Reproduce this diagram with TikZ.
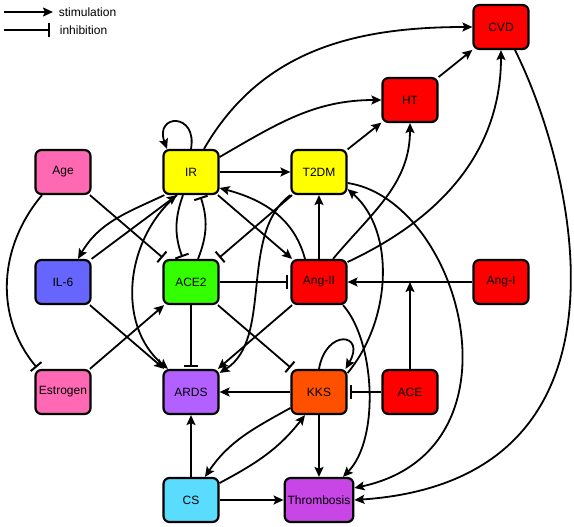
\documentclass[tikz,border=0pt]{standalone}
\usepackage{fontspec}
\setmainfont{Liberation Sans}
\usetikzlibrary{positioning,arrows.meta}

\definecolor{nodered}{RGB}{255,0,0}
\definecolor{nodeyellow}{RGB}{255,255,0}
\definecolor{nodepink}{RGB}{255,105,180}
\definecolor{nodeblue}{RGB}{102,102,255}
\definecolor{nodegreen}{RGB}{51,255,0}
\definecolor{nodeviolet}{RGB}{178,96,255}
\definecolor{nodeorange}{RGB}{255,80,0}
\definecolor{nodecyan}{RGB}{90,220,255}
\definecolor{nodemagenta}{RGB}{200,70,230}

\begin{document}
\begin{tikzpicture}[node distance=110pt, line width=1.8pt, font=\fontsize{12}{14}\selectfont]

\useasboundingbox (0,0) rectangle (574pt,-527pt);

% Styles
\tikzstyle{block} = [draw, rectangle, rounded corners=6pt, line width=2.2pt, minimum height=44pt, minimum width=55pt, inner sep=3pt]
\tikzstyle{act}   = [-{Stealth[length=10pt,width=9pt,inset=2pt]}]
\tikzstyle{inh}   = [-{Bar[width=14pt,line width=2pt]}, shorten >=2pt]

% Nodes
\node [block, fill=nodepink] (age) at (63pt,-172pt) {Age};
\node [block, fill=nodeyellow, right of=age, node distance=128pt] (ir) {IR};
\node [block, fill=nodeyellow, right of=ir, node distance=128pt] (t2dm) {T2DM};
\node [block, fill=nodeblue, below of=age] (il6) {IL-6};
\node [block, fill=nodegreen, below of=ir] (ace2) {ACE2};
\node [block, fill=nodered, below of=t2dm] (angii) {Ang-II};
\node [block, fill=nodered, right of=angii, node distance=182pt] (angi) {Ang-I};
\node [block, fill=nodepink, below of=il6] (estrogen) {Estrogen};
\node [block, fill=nodeviolet, below of=ace2] (ards) {ARDS};
\node [block, fill=nodeorange, below of=angii] (kks) {KKS};
\node [block, fill=nodered, right of=kks, node distance=91pt] (ace) {ACE};
\node [block, fill=nodecyan, below of=ards, node distance=108pt] (cs) {CS};
\node [block, fill=nodemagenta, below of=kks, node distance=108pt] (thrombosis) {Thrombosis};
\node [block, fill=nodered, above of=ace, node distance=292pt] (ht) {HT};
\node [block, fill=nodered, above of=angi, node distance=255pt] (cvd) {CVD};

% Legend
\coordinate (stimstart) at (4pt,-12pt);
\coordinate (stimend) at (53pt,-12pt);
\coordinate (inhstart) at (4pt,-30pt);
\coordinate (inhend) at (52pt,-30pt);
\node [right, inner sep=0pt] (stimlabel) at (58pt,-12pt) {stimulation};
\node [right, inner sep=0pt] (inhlabel) at (59pt,-30pt) {inhibition};
\draw [act] (stimstart) -- (stimend);
\draw [inh] (inhstart) -- (inhend);

% Straight connections
\draw [act] (ir) -- (t2dm);
\draw [act] (ir) -- (angii);
\draw [act] (il6.north east) -- ([xshift=-14pt]ir.south);
\draw [act] (il6) -- (ards);
\draw [act] (estrogen) -- (ace2);
\draw [inh] (age) -- (ace2);
\draw [inh] (ace2) -- (ards);
\draw [inh] (ace2) -- (angii);
\draw [inh] (ace2) -- (kks);
\draw [inh] (t2dm) -- (ace2);
\draw [act] (angii) -- (t2dm);
\draw [act] (angii) -- (ards);
\draw [act] (t2dm) -- (ht);
\draw [act] (ht) -- (cvd);
\draw [act] (angi) -- (angii);
\draw [act] (ace) -- (ace |- angi);
\draw [inh] (ace) -- (kks);
\draw [act] (kks) -- (ards);
\draw [act] (kks) -- (thrombosis);
\draw [act] (cs) -- (ards);
\draw [act] (cs) -- (thrombosis);

% Curved connections
\draw [act] (ir.north) to[out=80, in=110, looseness=4] ([xshift=-24pt]ir.north);
\draw [act] ([xshift=13pt]ir.north) to[out=60, in=180] (cvd);
\draw [act] ([yshift=15pt]ir.east) to[out=30, in=180] (ht);
\draw [act] ([xshift=2pt]ir.south west) to[out=205, in=60] ([xshift=15pt]il6.north);
\draw [inh] ([xshift=-8pt]ir.south) to[bend right=20] ([xshift=-8pt]ace2.north);
\draw [inh] ([xshift=7pt]ace2.north) to[bend right=20] ([xshift=9pt]ir.south);
\draw [act] ([xshift=-14pt]ir.south) to[out=220, in=140] ([xshift=-23pt]ards.north);
\draw [act] ([xshift=-14pt]angii.north) to[out=105, in=-15] ([yshift=-16pt]ir.east);
\draw [inh] ([xshift=-21pt]age.south) to[out=230, in=130] ([xshift=-25pt]estrogen.north);
\draw [act] ([xshift=14pt]angii.north) to[out=50, in=270] (ht);
\draw [act] ([yshift=20pt]angii.east) to[out=25, in=270] (cvd);
\draw [act] ([xshift=14pt]cvd.south) .. controls +(60pt,-120pt) and +(296pt,20pt) .. (thrombosis.east);
\draw [act] ([yshift=-11pt]t2dm.east) .. controls +(113pt,-17pt) and +(176pt,38pt) .. ([yshift=12pt]thrombosis.east);
\draw [act] ([yshift=19pt]kks.east) .. controls +(44pt,53pt) and +(48pt,-42pt) .. ([yshift=6pt]t2dm.south east);
\draw [act] ([xshift=24pt]angii.south) .. controls +(32pt,-36pt) and +(37pt,38pt) .. ([xshift=24pt]thrombosis.north);
\draw [act] (t2dm.south west) .. controls +(-52pt,-38pt) and +(54pt,34pt) .. ([yshift=-4pt]ards.north east);
\draw [act] (kks.north) to[out=80, in=60, looseness=4] ([xshift=-2pt]kks.north east);
\draw [act] ([yshift=-16pt]kks.west) to[out=209, in=56] ([xshift=14pt]cs.north);
\draw [act] ([yshift=17pt]cs.east) to[out=28, in=232] ([xshift=-14pt]kks.south);

\end{tikzpicture}
\end{document}
